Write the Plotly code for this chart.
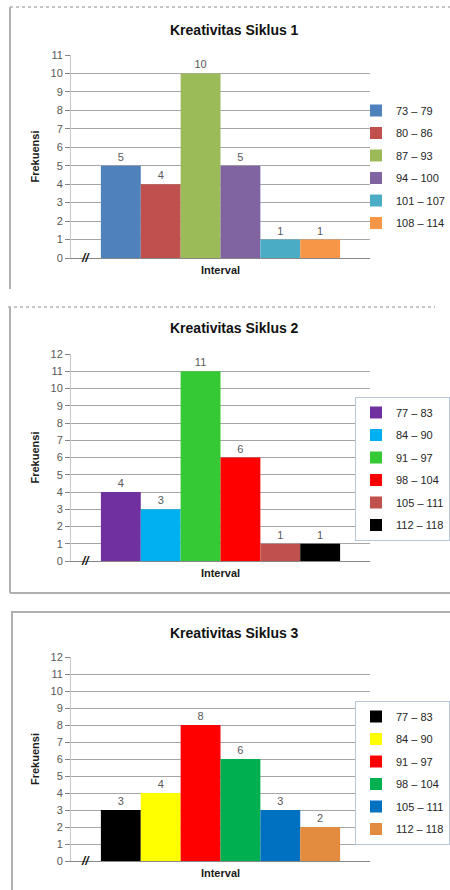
import plotly.graph_objects as go

W, H = 450, 890

# ---------------- data ----------------
titles = ["Kreativitas Siklus 1", "Kreativitas Siklus 2", "Kreativitas Siklus 3"]
category = ["Interval"]

intervals_1 = ["73 – 79", "80 – 86", "87 – 93", "94 – 100", "101 – 107", "108 – 114"]
freq_1 = [5, 4, 10, 5, 1, 1]
colors_1 = ["#4F81BD", "#C0504D", "#9BBB59", "#8064A2", "#4BACC6", "#F79646"]

intervals_2 = ["77 – 83", "84 – 90", "91 – 97", "98 – 104", "105 – 111", "112 – 118"]
freq_2 = [4, 3, 11, 6, 1, 1]
colors_2 = ["#7030A0", "#00B0F0", "#36C936", "#FF0000", "#C0504D", "#000000"]

intervals_3 = ["77 – 83", "84 – 90", "91 – 97", "98 – 104", "105 – 111", "112 – 118"]
freq_3 = [3, 4, 8, 6, 3, 2]
colors_3 = ["#000000", "#FFFF00", "#FF0000", "#00B050", "#0070C0", "#E38B3F"]

y_max = [11, 12, 12]

# ---------------- layout helpers ----------------
FONT = "Liberation Sans Narrow, Arial Narrow, Liberation Sans, Arial, sans-serif"
panels = [(intervals_1, freq_1, colors_1), (intervals_2, freq_2, colors_2), (intervals_3, freq_3, colors_3)]
plot_top = [55, 354, 657]
plot_bot = [258, 561, 861]
title_y = [30, 328, 633]
legend_top = [96, 397, 701]
x_left, x_right = 71, 370


def py(p):
    return 1 - p / H


fig = go.Figure()
layout = dict(
    width=W, height=H,
    margin=dict(l=0, r=0, t=0, b=0, autoexpand=False),
    paper_bgcolor="white", plot_bgcolor="white",
    barmode="group", bargap=0.2, bargroupgap=0,
    font=dict(family=FONT, color="#595959", size=11),
    annotations=[], shapes=[],
)

for i, (labels, vals, cols) in enumerate(panels):
    sfx = "" if i == 0 else str(i + 1)
    for j, (lab, v, c) in enumerate(zip(labels, vals, cols)):
        fig.add_trace(go.Bar(
            x=category, y=[v], name=lab,
            marker=dict(color=c, line=dict(width=0)),
            text=[v], textposition="outside", cliponaxis=False,
            textfont=dict(size=11, color="#595959", family=FONT),
            outsidetextfont=dict(size=11, color="#595959", family=FONT),
            xaxis="x" + sfx, yaxis="y" + sfx,
            legend="legend" + sfx, legendgroup=f"p{i}g{j}",
            hoverinfo="skip",
        ))
    layout["xaxis" + sfx] = dict(
        domain=[x_left / W, x_right / W], anchor="y" + sfx,
        showticklabels=False, ticks="", showgrid=False,
        showline=True, linecolor="#868686", linewidth=1,
        title=dict(text="<b>Interval</b>", font=dict(size=11, color="#1a1a1a", family=FONT), standoff=8),
        fixedrange=True,
    )
    layout["yaxis" + sfx] = dict(
        domain=[py(plot_bot[i]), py(plot_top[i])], anchor="x" + sfx,
        range=[0, y_max[i]], dtick=1, tick0=0,
        showgrid=True, gridcolor="#A6A6A6", gridwidth=1,
        showline=True, linecolor="#C8C8C8", linewidth=1,
        ticks="outside", ticklen=5, tickcolor="#868686",
        tickfont=dict(size=11, color="#595959", family=FONT),
        zeroline=False,
        title=dict(text="<b>Frekuensi</b>", font=dict(size=11, color="#1a1a1a", family=FONT), standoff=8),
        fixedrange=True,
    )
    layout["legend" + sfx] = dict(
        x=1.0, xanchor="right", y=py(legend_top[i]), yanchor="top",
        font=dict(size=11, color="#262626", family=FONT),
        bgcolor="white" if i > 0 else "rgba(255,255,255,0)",
        bordercolor="#B8C6D8", borderwidth=1 if i > 0 else 0,
        itemwidth=30, tracegroupgap=3.5, traceorder="grouped",
    )
    layout["annotations"].append(dict(
        text="<b>" + titles[i] + "</b>", x=234 / W, y=py(title_y[i]),
        xref="paper", yref="paper", showarrow=False, xanchor="center", yanchor="middle",
        font=dict(size=14, color="#111111", family=FONT),
    ))
    layout["annotations"].append(dict(
        text="<b><i>//</i></b>", x=0.05, y=0, xref="x" + sfx + " domain", yref="y" + sfx,
        showarrow=False, xanchor="center", yanchor="middle",
        font=dict(size=12, color="#111111", family=FONT),
    ))

# panel frames
frame = "#B0B0B0"
shapes = [
    dict(type="line", xref="paper", yref="paper", x0=10 / W, x1=1, y0=py(7), y1=py(7), line=dict(color="#8C8C8C", width=1, dash="dot")),
    dict(type="line", xref="paper", yref="paper", x0=10 / W, x1=10 / W, y0=py(7), y1=py(289), line=dict(color=frame, width=2)),
    dict(type="line", xref="paper", yref="paper", x0=8 / W, x1=435 / W, y0=py(307), y1=py(307), line=dict(color="#8C8C8C", width=1, dash="dot")),
    dict(type="line", xref="paper", yref="paper", x0=10 / W, x1=10 / W, y0=py(307), y1=py(593), line=dict(color=frame, width=2)),
    dict(type="line", xref="paper", yref="paper", x0=10 / W, x1=1, y0=py(593), y1=py(593), line=dict(color=frame, width=2)),
    dict(type="line", xref="paper", yref="paper", x0=11 / W, x1=1, y0=py(612), y1=py(612), line=dict(color=frame, width=2)),
    dict(type="line", xref="paper", yref="paper", x0=12 / W, x1=12 / W, y0=py(612), y1=py(890), line=dict(color=frame, width=2)),
]
layout["shapes"] = shapes

fig.update_layout(**layout)
fig.write_html("out.html", config={"displayModeBar": False},
               post_script="document.body.style.margin='0';")
